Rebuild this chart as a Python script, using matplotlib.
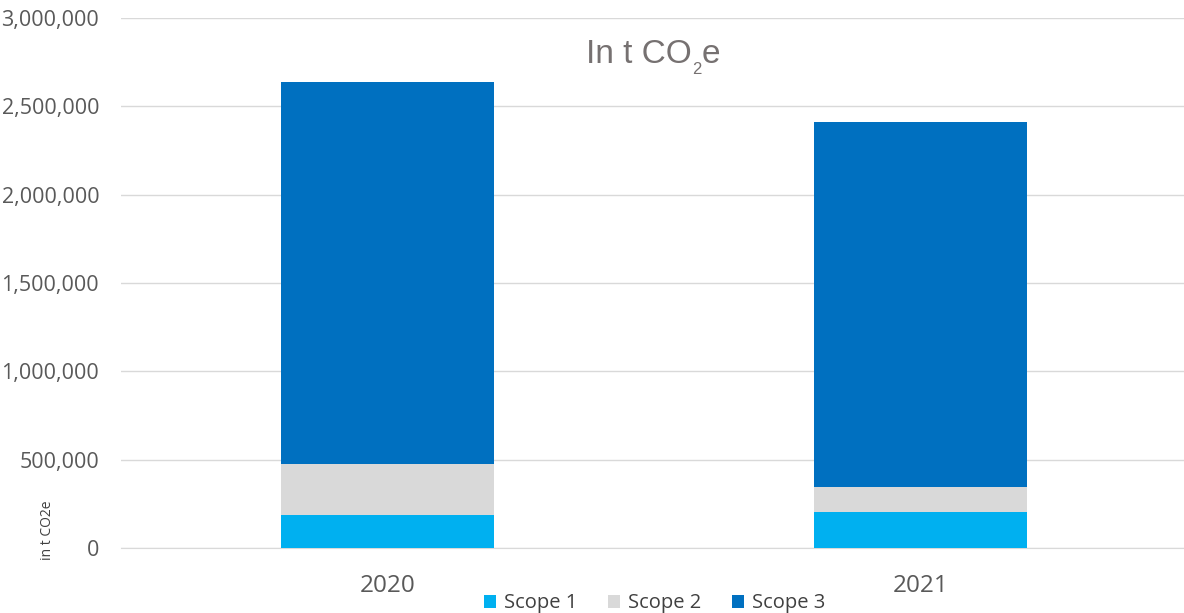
import matplotlib.pyplot as plt
from matplotlib.ticker import FuncFormatter
import numpy as np

years = ["2020", "2021"]
scope1 = [187000, 202000]
scope2 = [288000, 145000]
scope3 = [2163000, 2064000]
series_names = ["Scope 1", "Scope 2", "Scope 3"]
colors = ["#00B0F0", "#D9D9D9", "#0070C0"]

plt.rcParams["font.family"] = ["Open Sans", "DejaVu Sans"]

fig = plt.figure(figsize=(11.84, 6.13), dpi=100)
ax = fig.add_axes([0.1025, 0.106, 0.9003, 0.865])

x = np.arange(len(years))
bottom = np.zeros(len(years))
for vals, name, c in zip([scope1, scope2, scope3], series_names, colors):
    ax.bar(x, vals, width=0.4, bottom=bottom, color=c, label=name, zorder=3)
    bottom += np.array(vals)

ax.set_xlim(-0.5, 1.5)
ax.set_ylim(0, 3000000)
ax.set_yticks(np.arange(0, 3000001, 500000))
ax.yaxis.set_major_formatter(FuncFormatter(lambda v, p: f"{int(v):,}"))
ax.set_xticks(x)
ax.set_xticklabels(years)

ax.grid(axis="y", color="#D9D9D9", linewidth=1, zorder=0)
for s in ["top", "right", "left"]:
    ax.spines[s].set_visible(False)
ax.spines["bottom"].set_color("#D9D9D9")
ax.tick_params(axis="y", length=0, pad=16, labelsize=15.5, labelcolor="#595959")
ax.tick_params(axis="x", length=0, pad=19, labelsize=17.5, labelcolor="#595959")

# title "In t CO2e" with a real subscript, built from three pieces
tcol = "#767171"
t1 = ax.text(0.4358, 0.9145, "In t CO", transform=ax.transAxes, ha="left", va="baseline",
             fontsize=24, color=tcol, family="Liberation Sans")
t2 = ax.annotate("2", xy=(1, 0), xycoords=t1, xytext=(0.5, -2.6), textcoords="offset points",
                 ha="left", va="baseline", fontsize=12, color=tcol, family="Liberation Sans")
ax.annotate("e", xy=(1, 0), xycoords=(t2, t1), ha="left", va="bottom",
            fontsize=24, color=tcol, family="Liberation Sans")

fig.text(0.04, 0.135, "in t CO2e", rotation=90, ha="center", va="center",
         fontsize=10, color="#404040")

leg = fig.legend(loc="lower center", bbox_to_anchor=(0.553, -0.03), ncol=3, frameon=False,
                 fontsize=14.5, handlelength=0.6, handleheight=0.6, handletextpad=0.4,
                 columnspacing=1.5, labelcolor="#404040")

fig.savefig("out.png", dpi=100)
